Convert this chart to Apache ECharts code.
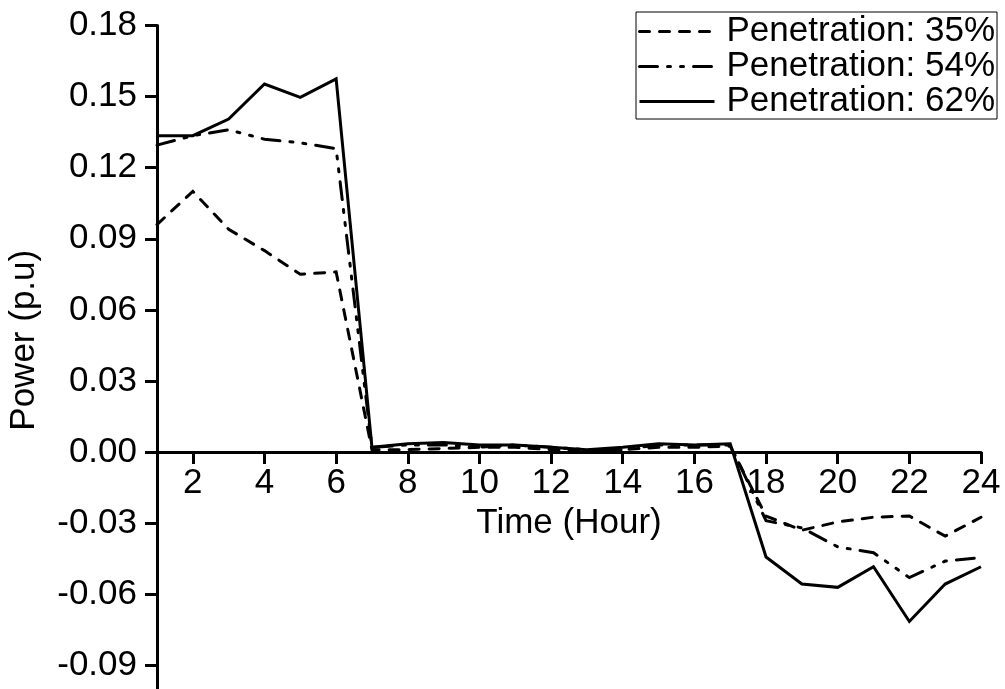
<!DOCTYPE html>
<html>
<head>
<meta charset="utf-8">
<script src="https://cdn.jsdelivr.net/npm/echarts@6/dist/echarts.min.js"></script>
<style>html,body{margin:0;padding:0;background:#fff}#c{width:1005px;height:689px}</style>
</head>
<body>
<div id="c"></div>
<script>
const hours = [1,2,3,4,5,6,7,8,9,10,11,12,13,14,15,16,17,18,19,20,21,22,23,24];
const seriesNames = ['Penetration: 35%', 'Penetration: 54%', 'Penetration: 62%'];
const pen35 = [0.096,0.110,0.094,0.085,0.075,0.076,0.001,0.001,0.0015,0.002,0.002,0.001,0.0005,0.001,0.002,0.002,0.0025,-0.027,-0.033,-0.0295,-0.0275,-0.027,-0.0355,-0.0275];
const pen54 = [0.1295,0.1335,0.136,0.132,0.1305,0.128,0.002,0.003,0.003,0.002,0.003,0.002,0.001,0.001,0.003,0.003,0.003,-0.029,-0.032,-0.040,-0.0425,-0.053,-0.046,-0.0445];
const pen62 = [0.1335,0.1335,0.1405,0.1553,0.1497,0.1575,0.002,0.0035,0.004,0.003,0.003,0.002,0.001,0.002,0.0035,0.003,0.0035,-0.0443,-0.0557,-0.0571,-0.0484,-0.0715,-0.0557,-0.0484];
const xTicks = [2,4,6,8,10,12,14,16,18,20,22,24];
const yTicks = [-0.09,-0.06,-0.03,0,0.03,0.06,0.09,0.12,0.15,0.18];
const yMin = -0.1, yMax = 0.18;

const FONT = 'Arial, "Liberation Sans", sans-serif';
const FS = 35;
const styles = [
  {type:[10,10], cap:'round'},
  {type:[18,10,3,10,3,10], cap:'round'},
  {type:'solid', cap:'butt'}
];
const dataSets = [pen35, pen54, pen62];

const GRID_TOP = 25.5, GRID_BOTTOM = 0, H = 689;
// offset moving the x axis from the grid bottom up to the value 0
const plotH = H - GRID_TOP - GRID_BOTTOM;
const zeroOffset = -plotH * (0 - yMin) / (yMax - yMin);

const chart = echarts.init(document.getElementById('c'), null, {renderer:'canvas'});
chart.setOption({
  animation: false,
  backgroundColor: '#fff',
  grid: {left:157, right:24, top:GRID_TOP, bottom:GRID_BOTTOM, containLabel:false, outerBoundsMode:'none'},
  legend: {
    orient:'vertical', left:636, top:12,
    backgroundColor:'#fff',
    borderColor:'#000', borderWidth:1, borderRadius:0,
    padding:[2,2,0,2],
    itemGap:0, itemWidth:75, itemHeight:14,
    textStyle:{fontFamily:FONT, fontSize:FS, color:'#000', lineHeight:32, padding:[0,0,0,7]},
    data: seriesNames.map((n,i) => ({
      name:n,
      itemStyle:{opacity:0},
      lineStyle:{color:'#000', width:3, type:styles[i].type, cap:styles[i].cap, opacity:1}
    }))
  },
  xAxis: {
    type:'value', min:1, max:24, position:'bottom',
    offset: zeroOffset,
    name:'Time (Hour)', nameLocation:'middle', nameGap:51,
    nameTextStyle:{fontFamily:FONT, fontSize:FS, color:'#000'},
    axisLine:{onZero:false, lineStyle:{color:'#000', width:3}},
    axisTick:{show:true, length:12, lineStyle:{width:3, color:'#000'}, customValues:xTicks},
    axisLabel:{fontFamily:FONT, fontSize:FS, color:'#000', margin:14, customValues:xTicks},
    splitLine:{show:false}
  },
  yAxis: {
    type:'value', min:yMin, max:yMax,
    name:'Power (p.u)', nameLocation:'middle', nameGap:115,
    nameTextStyle:{fontFamily:FONT, fontSize:FS, color:'#000', padding:[0,0,0,34]},
    axisLine:{onZero:false, lineStyle:{color:'#000', width:3}},
    axisTick:{show:true, length:12, lineStyle:{width:3, color:'#000'}, customValues:yTicks},
    axisLabel:{fontFamily:FONT, fontSize:FS, color:'#000', margin:20, customValues:yTicks,
      formatter: v => v.toFixed(2)},
    splitLine:{show:false}
  },
  series: seriesNames.map((n,i) => ({
    name:n, type:'line', symbol:'none', showSymbol:false,
    data: hours.map((h,j) => [h, dataSets[i][j]]),
    lineStyle:{color:'#000', width:3, type:styles[i].type, cap:styles[i].cap, join:'miter'},
    itemStyle:{color:'#000'}
  }))
});
</script>
</body>
</html>
